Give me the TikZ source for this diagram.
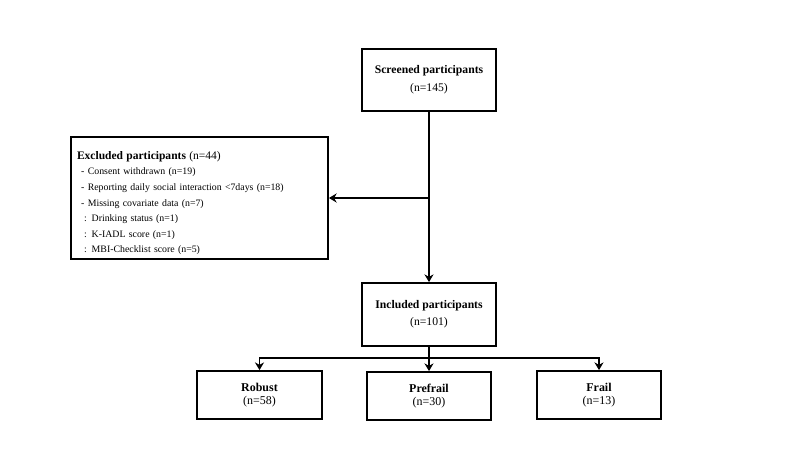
\documentclass[tikz,border=0pt]{standalone}
\usepackage{fontspec}
\setmainfont{Liberation Serif}
\usepackage{tikz}
\usetikzlibrary{calc,positioning,arrows.meta}

\begin{document}
\begin{tikzpicture}[x=0.025cm,y=-0.025cm,
  box/.style={draw, rectangle, line width=1.3pt, inner sep=0pt, align=center, font=\fontsize{8.3}{13}\selectfont},
  group/.style={box, minimum height=48*0.025cm, font=\fontsize{8.5}{9.6}\selectfont},
  flow/.style={line width=1.3pt, -{Stealth[length=5.5pt,width=6.5pt,inset=1.8pt]}}]
  \useasboundingbox (0,0) rectangle (800,450);

  % Top and middle boxes
  \node[box, minimum width=134*0.025cm, minimum height=62*0.025cm] (scr) at (429,80) {\textbf{Screened participants}\\(n=145)};
  \node[box, minimum width=134*0.025cm, minimum height=63*0.025cm, font=\fontsize{8.3}{12}\selectfont] (inc) at (429,314.5) {\textbf{Included participants}\\(n=101)};

  % Exclusion box
  \node[box, minimum width=257*0.025cm, minimum height=122*0.025cm, text width=245*0.025cm, align=left,
        font=\fontsize{7}{11.1}\selectfont] (exc) at (199.5,198)
    {\rule{0pt}{13pt}{\fontsize{8.2}{11}\selectfont\textbf{Excluded participants} (n=44)}\\
     \hspace*{3pt}- Consent withdrawn (n=19)\\
     \hspace*{3pt}- Reporting daily social interaction <7days (n=18)\\
     \hspace*{3pt}- Missing covariate data (n=7)\\
     \hspace*{5pt}: Drinking status (n=1)\\
     \hspace*{5pt}: K-IADL score (n=1)\\
     \hspace*{5pt}: MBI-Checklist score (n=5)};

  % Groups
  \node[group, minimum width=125*0.025cm] (rob) at (259.5,395) {\textbf{Robust}\\(n=58)};
  \node[group, minimum width=124*0.025cm] (pre) at (429,396) {\textbf{Prefrail}\\(n=30)};
  \node[group, minimum width=124*0.025cm] (frl) at (599,395) {\textbf{Frail}\\(n=13)};

  % Main flow
  \coordinate (split) at (429,198);
  \coordinate (fork) at (429,358);
  \draw[flow] (scr.south) -- (inc.north);
  \draw[flow] (split) -- (exc.east);

  % Branches
  \draw[line width=1.3pt] (inc.south) -- (fork);
  \draw[flow] (fork) -| (rob.north);
  \draw[flow] (fork) -- (pre.north);
  \draw[flow] (fork) -| (frl.north);
\end{tikzpicture}
\end{document}
